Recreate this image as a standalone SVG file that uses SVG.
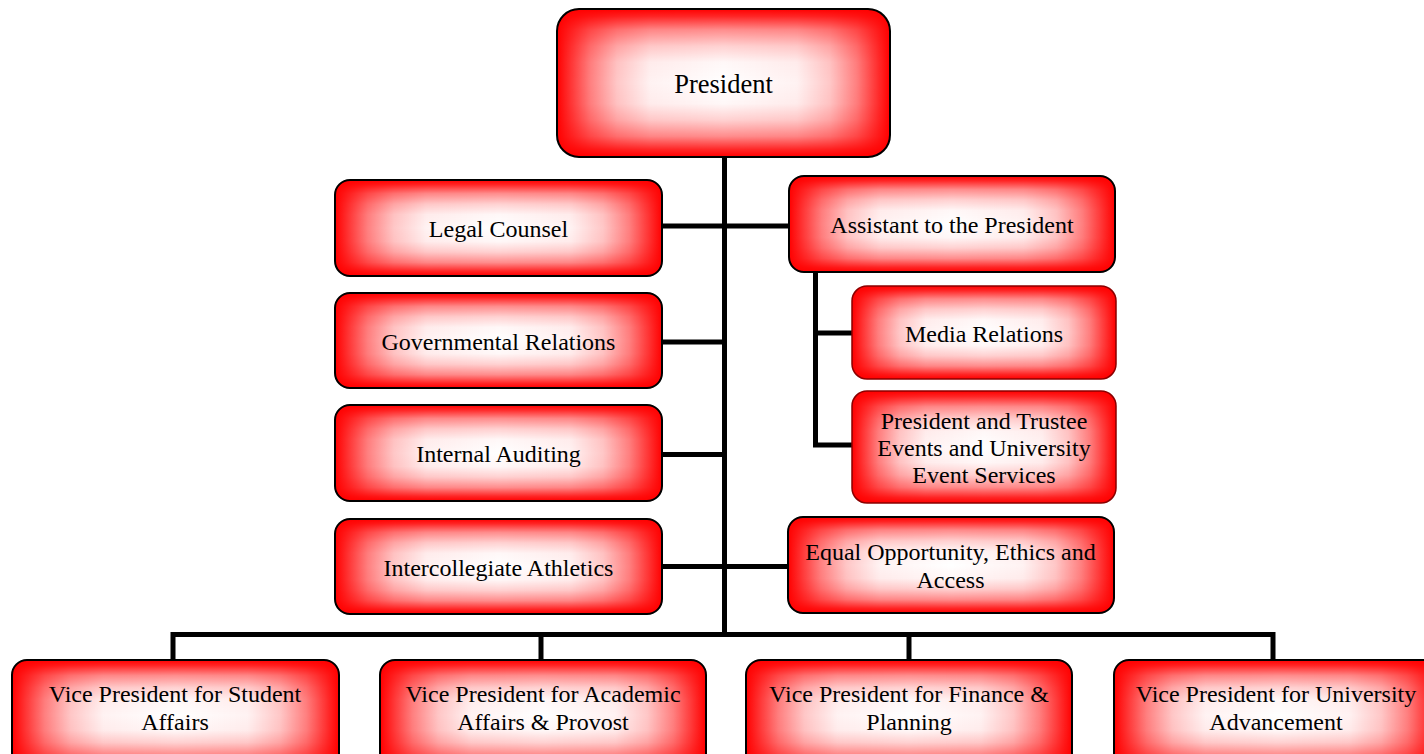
<svg xmlns="http://www.w3.org/2000/svg" width="1424" height="754" viewBox="0 0 1424 754">
<defs>
<linearGradient id="gh" x1="0" y1="0" x2="1" y2="0">
<stop offset="0" stop-color="#ff0000" stop-opacity="1"/>
<stop offset="0.03" stop-color="#ff0000" stop-opacity="0.85"/>
<stop offset="0.1" stop-color="#ff0000" stop-opacity="0.5"/>
<stop offset="0.18" stop-color="#ff0000" stop-opacity="0.22"/>
<stop offset="0.28" stop-color="#ff0000" stop-opacity="0.05"/>
<stop offset="0.5" stop-color="#ff0000" stop-opacity="0"/>
<stop offset="0.72" stop-color="#ff0000" stop-opacity="0.05"/>
<stop offset="0.82" stop-color="#ff0000" stop-opacity="0.22"/>
<stop offset="0.9" stop-color="#ff0000" stop-opacity="0.5"/>
<stop offset="0.97" stop-color="#ff0000" stop-opacity="0.85"/>
<stop offset="1" stop-color="#ff0000" stop-opacity="1"/>
</linearGradient>
<linearGradient id="gv" x1="0" y1="0" x2="0" y2="1">
<stop offset="0" stop-color="#ff0000" stop-opacity="1"/>
<stop offset="0.05" stop-color="#ff0000" stop-opacity="0.85"/>
<stop offset="0.14" stop-color="#ff0000" stop-opacity="0.45"/>
<stop offset="0.25" stop-color="#ff0000" stop-opacity="0.18"/>
<stop offset="0.36" stop-color="#ff0000" stop-opacity="0.03"/>
<stop offset="0.5" stop-color="#ff0000" stop-opacity="0"/>
<stop offset="0.64" stop-color="#ff0000" stop-opacity="0.03"/>
<stop offset="0.75" stop-color="#ff0000" stop-opacity="0.18"/>
<stop offset="0.86" stop-color="#ff0000" stop-opacity="0.45"/>
<stop offset="0.95" stop-color="#ff0000" stop-opacity="0.85"/>
<stop offset="1" stop-color="#ff0000" stop-opacity="1"/>
</linearGradient>
</defs>
<style>
.b{fill:#ffffff}
.h{fill:url(#gh)}
.v{fill:url(#gv)}
.o{fill:none;stroke:#000;stroke-width:2}
.od{fill:none;stroke:#8b0000;stroke-width:1.5}
.t{font-family:"Liberation Serif","Times New Roman",serif;font-size:24px;fill:#000;text-anchor:middle}
.tp{font-size:26.5px}
.c{fill:none;stroke:#000;stroke-width:5}
</style>
<rect width="1424" height="754" fill="#fff"/>
<g id="connectors">
<path class="c" d="M724.5 156V635"/>
<path class="c" d="M662 226H789"/>
<path class="c" d="M662 342H724"/>
<path class="c" d="M662 454.5H724"/>
<path class="c" d="M662 566.5H788"/>
<path class="c" d="M173 660V634.5H1273V660"/>
<path class="c" d="M541 634.5V660"/>
<path class="c" d="M909 634.5V660"/>
<path class="c" d="M815.5 272V445H852"/>
<path class="c" d="M815.5 333H852"/>
</g>
<g id="president">
<rect class="b" x="557" y="9" width="333" height="148" rx="22"/>
<rect class="h" x="557" y="9" width="333" height="148" rx="22"/>
<rect class="v" x="557" y="9" width="333" height="148" rx="22"/>
<rect class="o" x="557" y="9" width="333" height="148" rx="22"/>
<text class="t tp" x="723.5" y="92.5">President</text>
</g>
<g id="legal">
<rect class="b" x="335" y="180" width="327" height="96" rx="15"/>
<rect class="h" x="335" y="180" width="327" height="96" rx="15"/>
<rect class="v" x="335" y="180" width="327" height="96" rx="15"/>
<rect class="o" x="335" y="180" width="327" height="96" rx="15"/>
<text class="t" x="498.5" y="236.5">Legal Counsel</text>
</g>
<g id="governmental">
<rect class="b" x="335" y="293" width="327" height="95" rx="15"/>
<rect class="h" x="335" y="293" width="327" height="95" rx="15"/>
<rect class="v" x="335" y="293" width="327" height="95" rx="15"/>
<rect class="o" x="335" y="293" width="327" height="95" rx="15"/>
<text class="t" x="498.5" y="349.5">Governmental Relations</text>
</g>
<g id="auditing">
<rect class="b" x="335" y="405" width="327" height="96" rx="15"/>
<rect class="h" x="335" y="405" width="327" height="96" rx="15"/>
<rect class="v" x="335" y="405" width="327" height="96" rx="15"/>
<rect class="o" x="335" y="405" width="327" height="96" rx="15"/>
<text class="t" x="498.5" y="461.5">Internal Auditing</text>
</g>
<g id="athletics">
<rect class="b" x="335" y="519" width="327" height="95" rx="15"/>
<rect class="h" x="335" y="519" width="327" height="95" rx="15"/>
<rect class="v" x="335" y="519" width="327" height="95" rx="15"/>
<rect class="o" x="335" y="519" width="327" height="95" rx="15"/>
<text class="t" x="498.5" y="575.5">Intercollegiate Athletics</text>
</g>
<g id="assistant">
<rect class="b" x="789" y="176" width="326" height="96" rx="15"/>
<rect class="h" x="789" y="176" width="326" height="96" rx="15"/>
<rect class="v" x="789" y="176" width="326" height="96" rx="15"/>
<rect class="o" x="789" y="176" width="326" height="96" rx="15"/>
<text class="t" x="952" y="232.5">Assistant to the President</text>
</g>
<g id="media">
<rect class="b" x="852" y="286" width="264" height="93" rx="15"/>
<rect class="h" x="852" y="286" width="264" height="93" rx="15"/>
<rect class="v" x="852" y="286" width="264" height="93" rx="15"/>
<rect class="od" x="852" y="286" width="264" height="93" rx="15"/>
<text class="t" x="984" y="341.5">Media Relations</text>
</g>
<g id="events">
<rect class="b" x="852" y="391" width="264" height="112" rx="15"/>
<rect class="h" x="852" y="391" width="264" height="112" rx="15"/>
<rect class="v" x="852" y="391" width="264" height="112" rx="15"/>
<rect class="od" x="852" y="391" width="264" height="112" rx="15"/>
<text class="t" x="984" y="428.5">President and Trustee</text>
<text class="t" x="984" y="455.5">Events and University</text>
<text class="t" x="984" y="482.5">Event Services</text>
</g>
<g id="equal">
<rect class="b" x="788" y="517" width="326" height="96" rx="15"/>
<rect class="h" x="788" y="517" width="326" height="96" rx="15"/>
<rect class="v" x="788" y="517" width="326" height="96" rx="15"/>
<rect class="o" x="788" y="517" width="326" height="96" rx="15"/>
<text class="t" x="950.5" y="560">Equal Opportunity, Ethics and</text>
<text class="t" x="950.5" y="587.5">Access</text>
</g>
<g id="vp-student">
<rect class="b" x="12" y="660" width="327" height="110" rx="15"/>
<rect class="h" x="12" y="660" width="327" height="110" rx="15"/>
<rect class="v" x="12" y="660" width="327" height="110" rx="15"/>
<rect class="o" x="12" y="660" width="327" height="110" rx="15"/>
<text class="t" x="175" y="702">Vice President for Student</text>
<text class="t" x="175" y="730">Affairs</text>
</g>
<g id="vp-academic">
<rect class="b" x="380" y="660" width="326" height="110" rx="15"/>
<rect class="h" x="380" y="660" width="326" height="110" rx="15"/>
<rect class="v" x="380" y="660" width="326" height="110" rx="15"/>
<rect class="o" x="380" y="660" width="326" height="110" rx="15"/>
<text class="t" x="543" y="702">Vice President for Academic</text>
<text class="t" x="543" y="730">Affairs &amp; Provost</text>
</g>
<g id="vp-finance">
<rect class="b" x="746" y="660" width="326" height="110" rx="15"/>
<rect class="h" x="746" y="660" width="326" height="110" rx="15"/>
<rect class="v" x="746" y="660" width="326" height="110" rx="15"/>
<rect class="o" x="746" y="660" width="326" height="110" rx="15"/>
<text class="t" x="909" y="702">Vice President for Finance &amp;</text>
<text class="t" x="909" y="730">Planning</text>
</g>
<g id="vp-advancement">
<rect class="b" x="1114" y="660" width="326" height="110" rx="15"/>
<rect class="h" x="1114" y="660" width="326" height="110" rx="15"/>
<rect class="v" x="1114" y="660" width="326" height="110" rx="15"/>
<rect class="o" x="1114" y="660" width="326" height="110" rx="15"/>
<text class="t" x="1276" y="702">Vice President for University</text>
<text class="t" x="1276" y="730">Advancement</text>
</g>
</svg>
